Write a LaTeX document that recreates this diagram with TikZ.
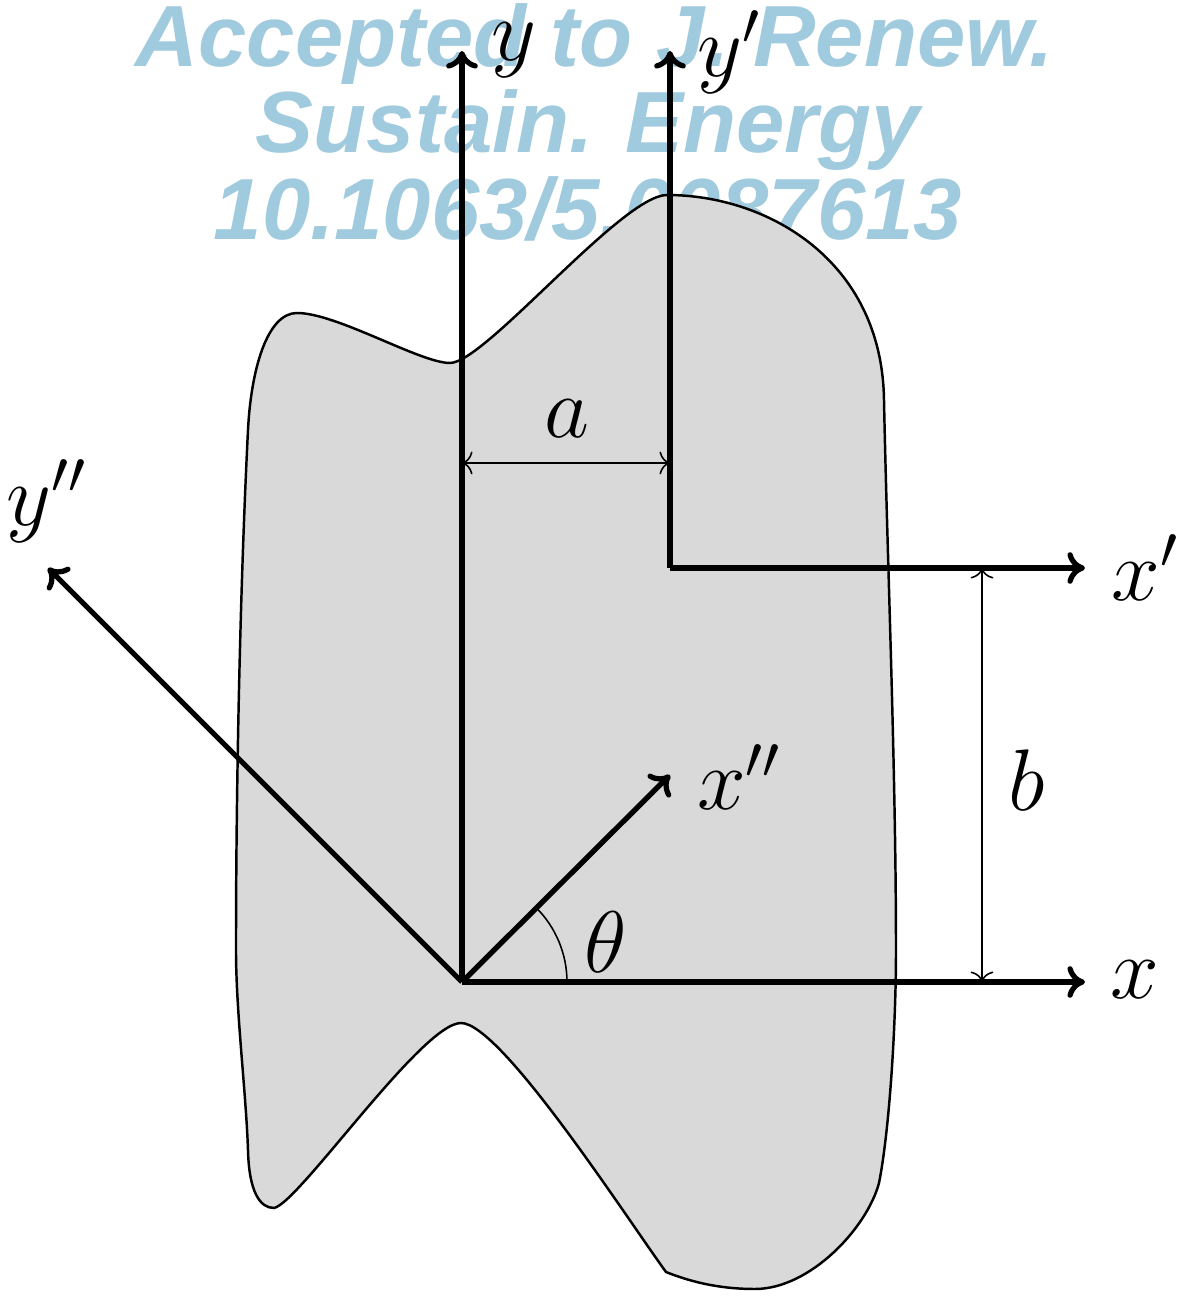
\documentclass[tikz,border=0pt]{standalone}
\usepackage{fontspec}
\newfontfamily\wmfont{Liberation Sans}
\usetikzlibrary{arrows.meta}
\definecolor{wmblue}{RGB}{160,202,222}
\definecolor{bodygray}{RGB}{217,217,217}

\begin{document}
\begin{tikzpicture}[
	font=\fontsize{23}{28}\selectfont,
	axis/.style={line width=1.5pt, -{To[length=5pt,width=9pt]}},
	dimline/.style={line width=0.45pt, {To[length=3pt,width=6.5pt]}-{To[length=3pt,width=6.5pt]}},
	body/.style={draw, line width=0.7pt, fill=bodygray},
	lbl/.style={inner sep=0pt},
	wm/.style={font=\wmfont\bfseries\itshape\fontsize{24.7}{30}\selectfont, text=wmblue, anchor=base, inner sep=0pt},
]
\useasboundingbox (-4.62,-3.17) rectangle (7.25,9.82);

% --- Watermark ---
\node[wm] (wm1) at (1.33,9.15) {Accepted to J. Renew.};
\node[wm] (wm2) at (1.26,8.29) {Sustain. Energy};
\node[wm] (wm3) at (1.26,7.42) {10.1063/5.0087613};

% --- Body ---
\draw[body] (-0.12,6.19)
	.. controls (-0.42,6.19) and (-1.25,6.69) .. (-1.65,6.69)
	.. controls (-1.95,6.69) and (-2.11,6.12) .. (-2.14,5.52)
	.. controls (-2.22,3.92) and (-2.26,1.92) .. (-2.26,0.32)
	.. controls (-2.26,-0.30) and (-2.16,-1.10) .. (-2.14,-1.68)
	.. controls (-2.13,-2.10) and (-2.02,-2.26) .. (-1.88,-2.26)
	.. controls (-1.63,-2.21) and (-0.40,-0.41) .. (-0.01,-0.41)
	.. controls (0.39,-0.41) and (1.64,-2.35) .. (2.04,-2.90)
	.. controls (2.34,-3.02) and (2.63,-3.07) .. (2.93,-3.07)
	.. controls (3.48,-3.07) and (4.05,-2.46) .. (4.17,-2.01)
	.. controls (4.27,-1.51) and (4.34,-0.48) .. (4.34,0.32)
	.. controls (4.34,2.12) and (4.25,4.32) .. (4.22,5.82)
	.. controls (4.20,7.22) and (3.05,7.87) .. (2.05,7.87)
	.. controls (1.60,7.87) and (0.23,6.19) .. (-0.12,6.19) -- cycle;

% --- Axes ---
\coordinate (o) at (0,0);
\coordinate (op) at (2.08,4.14);
\coordinate (xtip) at (6.23,0);
\coordinate (ytip) at (0,9.31);
\coordinate (xptip) at (6.23,4.14);
\coordinate (yptip) at (2.08,9.31);
\coordinate (xpptip) at (2.08,2.07);
\coordinate (ypptip) at (-4.14,4.14);

\draw[axis] (o) -- (xtip);
\draw[axis] (o) -- (ytip);
\draw[axis] (op) -- (xptip);
\draw[axis] (op) -- (yptip);
\draw[axis] (o) -- (xpptip);
\draw[axis] (o) -- (ypptip);

% --- Offsets and angle ---
\coordinate (aleft) at (0,5.19);
\coordinate (aright) at (2.08,5.19);
\coordinate (bbot) at (5.20,0);
\coordinate (btop) at (5.20,4.14);
\draw[dimline] (aleft) -- (aright);
\draw[dimline] (bbot) -- (btop);
\draw[line width=0.45pt] (1.05,0) arc[start angle=0, end angle=45, radius=1.05];

% --- Labels ---
\node[lbl] (xlbl) at (6.73,0.02) {$x$};
\node[lbl] (ylbl) at (0.52,9.32) {$y$};
\node[lbl] (xplbl) at (6.83,4.14) {$x'$};
\node[lbl] (yplbl) at (2.67,9.30) {$y'$};
\node[lbl] (xpplbl) at (2.77,2.05) {$x''$};
\node[lbl] (ypplbl) at (-4.15,4.81) {$y''$};
\node[lbl] (thlbl) at (1.44,0.40) {$\theta$};
\node[lbl] (albl) at (1.05,5.63) {$a$};
\node[lbl] (blbl) at (5.65,2.02) {$b$};

\end{tikzpicture}
\end{document}
